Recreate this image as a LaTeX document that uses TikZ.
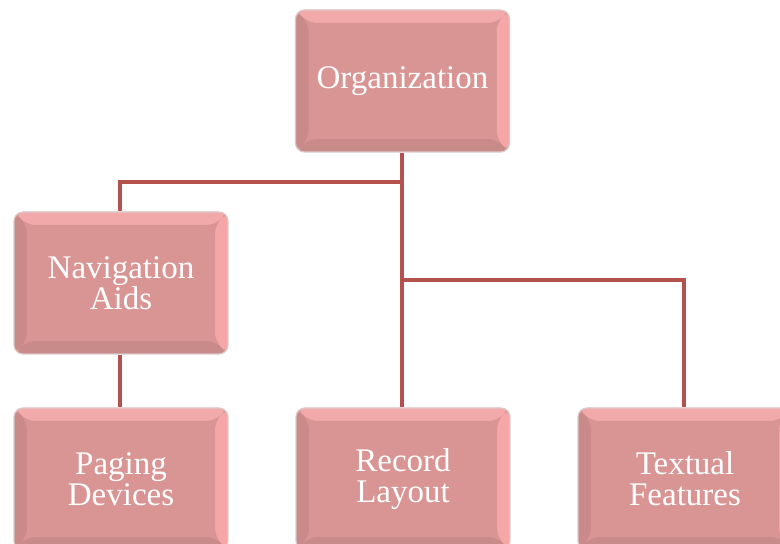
\documentclass[tikz,border=0pt]{standalone}
\usepackage{fontspec}
\setmainfont{Liberation Serif}
\usetikzlibrary{calc}
\definecolor{face}{HTML}{D99594}
\definecolor{btop}{HTML}{F2A9A9}
\definecolor{bleft}{HTML}{C98A89}
\definecolor{bright}{HTML}{F5A7A7}
\definecolor{bbot}{HTML}{C88B8A}
\definecolor{edge}{HTML}{DCC8C8}
\definecolor{conn}{HTML}{B4514D}
\tikzset{
  pbox/.style={rounded corners=9pt, minimum width=214pt, minimum height=142pt,
    inner sep=0pt, align=center, text=white, draw=edge, line width=1.2pt,
    font=\fontsize{33}{31}\selectfont,
    path picture={
      \coordinate (nw) at (path picture bounding box.north west);
      \coordinate (ne) at (path picture bounding box.north east);
      \coordinate (sw) at (path picture bounding box.south west);
      \coordinate (se) at (path picture bounding box.south east);
      \coordinate (inw) at ($(nw)+(13pt,-13pt)$);
      \coordinate (ine) at ($(ne)+(-13pt,-13pt)$);
      \coordinate (isw) at ($(sw)+(13pt,13pt)$);
      \coordinate (ise) at ($(se)+(-13pt,13pt)$);
      \fill[face] (sw) rectangle (ne);
      \fill[btop] (nw) -- (ne) -- (ine) -- (inw) -- cycle;
      \fill[bbot] (sw) -- (se) -- (ise) -- (isw) -- cycle;
      \fill[bleft] (nw) -- (sw) -- (isw) -- (inw) -- cycle;
      \fill[bright] (ne) -- (se) -- (ise) -- (ine) -- cycle;
      \fill[face] (inw) rectangle (ise);
    }},
  conn/.style={draw=conn, line width=4pt}
}
\begin{document}
\begin{tikzpicture}[x=1pt,y=1pt]
\useasboundingbox (0,0) rectangle (780,544);
\node[pbox] (org) at (402.5,463) {Organization};
\node[pbox] (nav) at (121,261) {Navigation\\Aids};
\node[pbox] (pag) at (121,65) {Paging\\Devices};
\node[pbox] (rec) at (403,65) {Record\\Layout};
\node[pbox] (tex) at (685,65) {Textual\\Features};
\coordinate (j1) at (402,362);
\coordinate (j2) at (402,264);
\draw[conn] (org.south -| j1) -- (rec.north -| j1);
\draw[conn] (j1) -| (nav.north -| 120,0);
\draw[conn] (j2) -| (tex.north -| 684,0);
\draw[conn] (nav.south -| 120,0) -- (pag.north -| 120,0);
\end{tikzpicture}
\end{document}
